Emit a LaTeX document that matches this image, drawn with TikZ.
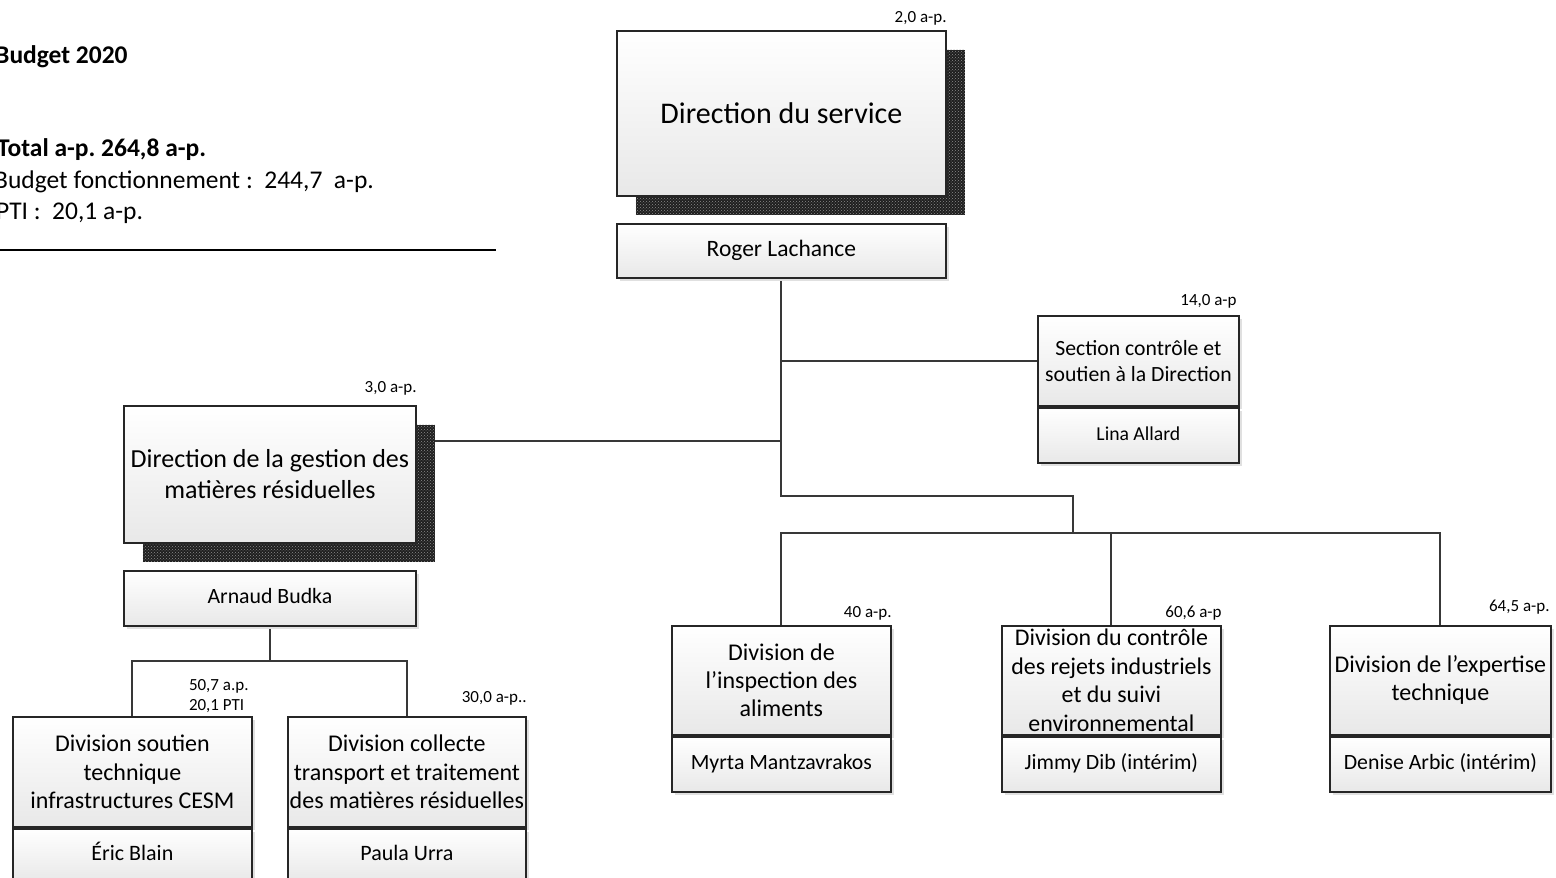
\documentclass[tikz,border=0pt]{standalone}
\usepackage{fontspec}
\setmainfont{Carlito}
\usetikzlibrary{calc,shadows,patterns}
\pgfdeclarelayer{back}
\pgfsetlayers{back,main}

\tikzset{
	unit/.style={draw=black!85, line width=1.8pt, top color=white, bottom color=black!9,
		align=center, inner sep=0pt, anchor=north west},
	smallunit/.style={unit, drop shadow={shadow xshift=3pt, shadow yshift=-3pt, fill=black!12, opacity=1}},
	namebox/.style={smallunit, text height=16pt, text depth=5pt},
	bigunit/.style={unit,
		general shadow={shadow xshift=19pt, shadow yshift=-19pt, fill=black!88},
		general shadow={shadow xshift=19pt, shadow yshift=-19pt, pattern=crosshatch dots, pattern color=black!45}},
	link/.style={draw=black!78, line width=2pt},
	fte/.style={font=\fontsize{17}{20}\selectfont, inner sep=0pt, anchor=base east},
	txt/.style={font=\fontsize{25.5}{31}\selectfont, inner sep=0pt, anchor=base west}
}

\begin{document}
\frenchspacing
\begin{tikzpicture}[x=1pt, y=-1pt]
		%%%%% START %%%%%
		\useasboundingbox (0,0) rectangle (1556,878);
		
		% budget summary
		\node[txt, font=\bfseries\fontsize{25.5}{31}\selectfont] (bud) at (-5,63) {Budget 2020};
		\node[txt, font=\bfseries\fontsize{25.5}{31}\selectfont] (tot) at (-3,156) {Total a-p. 264,8 a-p.};
		\node[txt] (fct) at (-6,188) {Budget fonctionnement :\ \ 244,7\ \ a-p.};
		\node[txt] (pti) at (-4,219) {PTI :\ \ 20,1 a-p.};
		\draw[line width=2pt] (0,250) -- (496,250);
		
		% direction du service
		\node[bigunit, minimum width=329pt, minimum height=165pt, font=\fontsize{30}{36}\selectfont] (dsvc) at (616,30) {Direction du service};
		\node[namebox, minimum width=329pt, minimum height=54pt, font=\fontsize{23.5}{28}\selectfont] (roger) at (616,223) {Roger Lachance};
		\node[fte] at ([yshift=8pt]dsvc.north east) {2,0 a-p.};
		
		% section
		\node[smallunit, minimum width=201pt, minimum height=90pt, font=\fontsize{21.7}{26}\selectfont] (sect) at (1037,315) {Section contrôle et\\soutien à la Direction};
		\node[namebox, minimum width=201pt, minimum height=55pt, font=\fontsize{19.7}{24}\selectfont] (lina) at (sect.south west) {Lina Allard};
		\node[fte] at ([xshift=-3pt, yshift=10pt]sect.north east) {14,0 a-p};
		
		% matieres residuelles
		\node[bigunit, minimum width=292pt, minimum height=137pt, font=\fontsize{26}{31}\selectfont] (dgmr) at (123,405) {Direction de la gestion des\\matières résiduelles};
		\node[namebox, minimum width=292pt, minimum height=55pt, font=\fontsize{21.8}{26}\selectfont] (budka) at (123,570) {Arnaud Budka};
		\node[fte] at ([yshift=13pt]dgmr.north east) {3,0 a-p.};
		
		\node[smallunit, minimum width=239pt, minimum height=110pt, font=\fontsize{24}{28.5}\selectfont] (soutien) at (12,716) {Division soutien\\technique\\infrastructures CESM};
		\node[namebox, minimum width=239pt, minimum height=53pt, font=\fontsize{22}{26}\selectfont] (blain) at (soutien.south west) {Éric Blain};
		\node[fte, align=left, anchor=south east] at ([xshift=-4pt, yshift=3pt]soutien.north east) {50,7 a.p.\\20,1 PTI};
		
		\node[smallunit, minimum width=238pt, minimum height=110pt, font=\fontsize{24}{28.5}\selectfont] (collecte) at (287,716) {Division collecte\\transport et traitement\\des matières résiduelles};
		\node[namebox, minimum width=238pt, minimum height=53pt, font=\fontsize{22}{26}\selectfont] (urra) at (collecte.south west) {Paula Urra};
		\node[fte] at ([yshift=14pt]collecte.north east) {30,0 a-p..};
		
		% divisions
		\node[smallunit, minimum width=219pt, minimum height=109pt, font=\fontsize{24}{28}\selectfont] (insp) at (671,625) {Division de\\l’inspection des\\aliments};
		\node[namebox, minimum width=219pt, minimum height=55pt, font=\fontsize{21.8}{26}\selectfont] (myrta) at (insp.south west) {Myrta Mantzavrakos};
		\node[fte] at ([yshift=8pt]insp.north east) {40 a-p.};
		
		\node[smallunit, minimum width=219pt, minimum height=109pt, font=\fontsize{23.9}{28.5}\selectfont] (ctrl) at (1001,625) {Division du contrôle\\des rejets industriels\\et du suivi\\environnemental};
		\node[namebox, minimum width=219pt, minimum height=55pt, font=\fontsize{21.8}{26}\selectfont] (jimmy) at (ctrl.south west) {Jimmy Dib (intérim)};
		\node[fte] at ([yshift=8pt]ctrl.north east) {60,6 a-p};
		
		\node[smallunit, minimum width=221pt, minimum height=109pt, font=\fontsize{24}{28}\selectfont] (expt) at (1329,625) {Division de l’expertise\\technique};
		\node[namebox, minimum width=221pt, minimum height=55pt, font=\fontsize{21.8}{26}\selectfont] (denise) at (expt.south west) {Denise Arbic (intérim)};
		\node[fte] at ([xshift=-2pt, yshift=14pt]expt.north east) {64,5 a-p.};
		
		% liens
		\begin{pgfonlayer}{back}
			\coordinate (jA) at (roger.south |- 0,496);
			\coordinate (jB) at (1073,533);
			\coordinate (jG) at (roger.south |- 0,441);
			\coordinate (jC) at (budka.south |- 0,661);
			\draw[link] (roger.south) -- (jA) -| (jB);
			\draw[link] (sect.west) -- (sect.west -| roger.south);
			\draw[link] (jG) -- (jG -| dgmr.east);
			\draw[link] (insp.north) |- (jB) -| (expt.north);
			\draw[link] (ctrl.north) -- (ctrl.north |- jB);
			\draw[link] (budka.south) -- (jC);
			\draw[link] (soutien.north) |- (jC) -| (collecte.north);
		\end{pgfonlayer}
		
		%%%%% END %%%%%
\end{tikzpicture}
\end{document}
